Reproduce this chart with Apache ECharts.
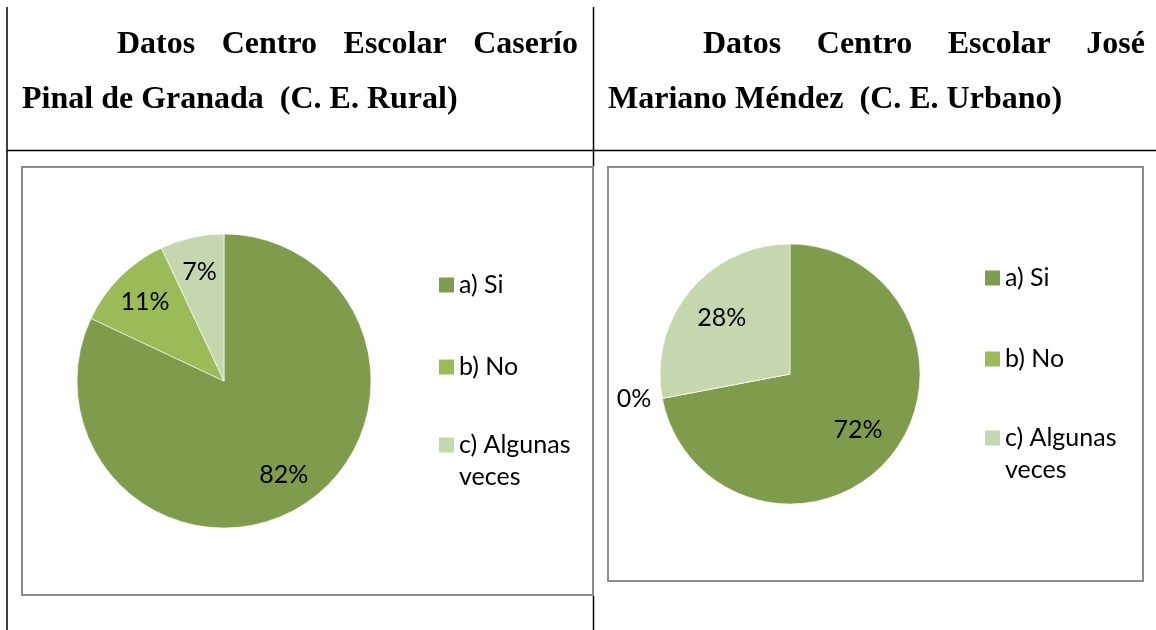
<!DOCTYPE html>
<html>
<head>
<meta charset="utf-8">
<script src="https://cdn.jsdelivr.net/npm/echarts@6/dist/echarts.min.js"></script>
<style>
  html, body { margin: 0; padding: 0; background: #fff; }
  #chart { width: 1156px; height: 630px; }
</style>
</head>
<body>
<div id="chart"></div>
<script>
  // data
  const categories = ['a) Si', 'b) No', 'c) Algunas veces'];
  const ruralValues = [82, 11, 7];
  const urbanValues = [72, 0, 28];
  const sliceColors = ['#7E9C4B', '#9BBB59', '#C6D6AE'];
  const ruralTitle = ['Datos Centro Escolar Caserío', 'Pinal de Granada  (C. E. Rural)'];
  const urbanTitle = ['Datos Centro Escolar José', 'Mariano Méndez  (C. E. Urbano)'];

  const titleSize = 32;
  const titleFamily = '"Liberation Serif", "Times New Roman", serif';
  const labelFont = 'Lato';
  const labelSize = 25;

  const ctx = document.createElement('canvas').getContext('2d');
  ctx.font = 'bold ' + titleSize + 'px ' + titleFamily;

  // first line of the heading is justified between x0 and x1
  function justified(line, x0, x1, y) {
    const words = line.split(' ');
    const widths = words.map(w => ctx.measureText(w).width);
    const total = widths.reduce((a, b) => a + b, 0);
    const gap = (x1 - x0 - total) / (words.length - 1);
    let x = x0;
    return words.map((w, i) => {
      const el = textEl(w, x, y);
      x += widths[i] + gap;
      return el;
    });
  }

  function textEl(text, x, y) {
    return {
      type: 'text', x: x, y: y,
      style: {
        text: text, fontSize: titleSize, fontFamily: titleFamily, fontWeight: 'bold',
        fill: '#000', align: 'left', verticalAlign: 'middle'
      }
    };
  }

  function line(x1, y1, x2, y2) {
    return { type: 'line', shape: { x1, y1, x2, y2 }, style: { stroke: '#000', lineWidth: 1.5 } };
  }

  function box(x, y, w, h) {
    return { type: 'rect', shape: { x: x, y: y, width: w, height: h },
      style: { fill: 'none', stroke: '#8c8c8c', lineWidth: 2 } };
  }

  // move inside labels further out from the centre, Excel-like
  function labelPush(center, values, k) {
    return function (params) {
      if (values[params.dataIndex] === 0) return {};
      const r = params.labelRect;
      const mx = r.x + r.width / 2;
      const my = r.y + r.height / 2;
      return { dx: (mx - center[0]) * k, dy: (my - center[1]) * k };
    };
  }

  function pieSeries(name, values, center, radius, k) {
    return {
      name: name,
      type: 'pie',
      center: center,
      radius: radius,
      startAngle: 90,
      clockwise: true,
      avoidLabelOverlap: false,
      emphasis: { scale: false },
      itemStyle: { borderColor: '#fff', borderWidth: 0.6 },
      label: {
        show: true,
        position: 'inside',
        formatter: '{c}%',
        color: '#000',
        fontFamily: labelFont,
        fontSize: labelSize
      },
      labelLine: { show: false },
      labelLayout: labelPush(center, values, k),
      data: categories.map((c, i) => {
        const item = { name: c, value: values[i], itemStyle: { color: sliceColors[i] } };
        if (values[i] === 0) {
          item.label = { position: 'outside', align: 'right' };
          item.labelLine = { show: false, length: 4, length2: 2 };
        }
        return item;
      })
    };
  }

  // one legend per entry so each row sits where the original has it;
  // the wrapped entry gets an empty first line so "c) Algunas" lines up with its swatch
  function legends(left, centers) {
    return categories.map((c, i) => {
      const twoLines = i === 2;
      return {
        data: [c],
        orient: 'vertical',
        left: left,
        top: twoLines ? centers[i] - 48 : centers[i] - 16,
        padding: 0,
        icon: 'rect',
        itemWidth: 15,
        itemHeight: 15,
        itemStyle: { borderWidth: 0 },
        selectedMode: false,
        formatter: name => twoLines ? ' \n' + name.replace(' veces', '\nveces') : name,
        textStyle: {
          color: '#000',
          fontFamily: labelFont,
          fontSize: labelSize,
          lineHeight: 32
        }
      };
    });
  }

  const graphics = [
    line(7, 7, 7, 630),
    line(593.5, 7, 593.5, 166),
    line(593.5, 596, 593.5, 630),
    line(7, 150.5, 1156, 150.5),
    box(22, 167, 571, 428),
    box(608, 167, 535, 414),
    ...justified(ruralTitle[0], 117, 578, 45),
    textEl(ruralTitle[1], 22, 100),
    ...justified(urbanTitle[0], 703, 1145, 45),
    textEl(urbanTitle[1], 608, 100)
  ];

  const chart = echarts.init(document.getElementById('chart'));
  chart.setOption({
    animation: false,
    backgroundColor: '#fff',
    graphic: graphics,
    legend: [...legends(439, [285, 367, 445]), ...legends(985, [278, 359, 438])],
    series: [
      pieSeries('C. E. Rural', ruralValues, [224, 381], 147, 0.46),
      pieSeries('C. E. Urbano', urbanValues, [790, 374], 130, 0.3)
    ]
  });
</script>
</body>
</html>
